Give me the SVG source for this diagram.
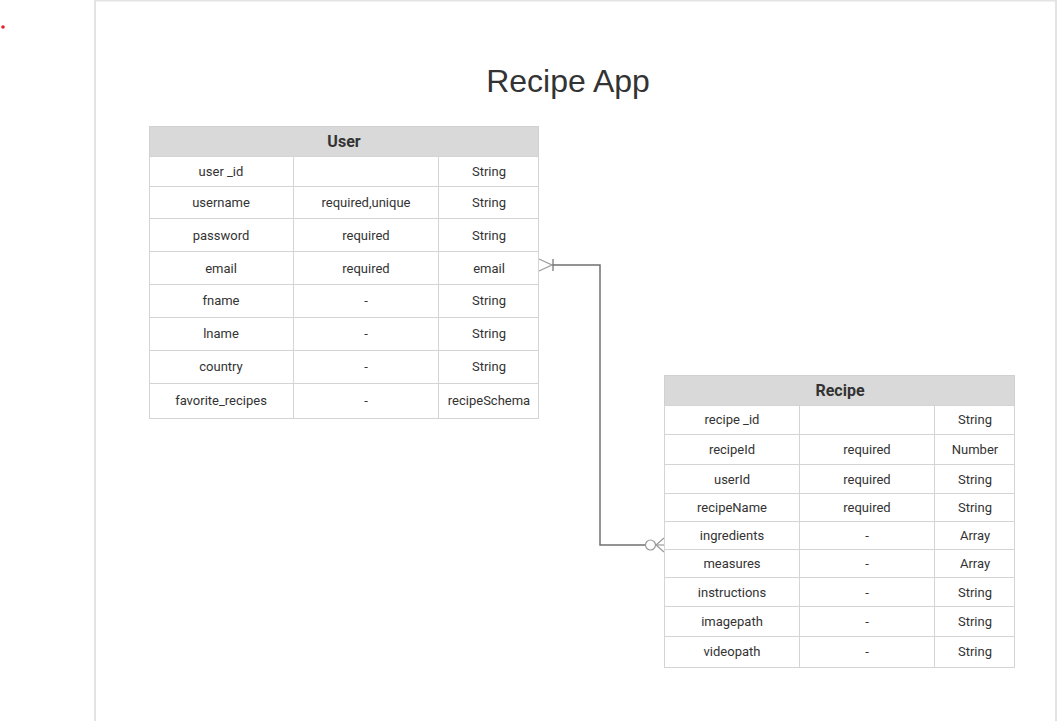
<svg xmlns="http://www.w3.org/2000/svg" width="1058" height="721" viewBox="0 0 1058 721">
<style>
.frame{fill:#ffffff;stroke:#e3e3e3;stroke-width:2}
.hdr{fill:#d9d9d9;stroke:#d0d0d0;stroke-width:1}
.cell{fill:#ffffff;stroke:#d4d4d4;stroke-width:1}
.ht{font-family:Roboto,"Liberation Sans",Arial,sans-serif;font-size:16px;font-weight:bold;fill:#333333;text-anchor:middle}
.t{font-family:Roboto,"Liberation Sans",Arial,sans-serif;font-size:13px;fill:#333333;text-anchor:middle}
.title{font-family:"Liberation Sans",Arial,sans-serif;font-size:32px;fill:#333333;text-anchor:middle}
.conn{fill:none;stroke:#707070;stroke-width:1.5}
.end{fill:#ffffff;stroke:#9a9a9a;stroke-width:1.2}
</style>
<rect class="frame" x="95" y="0.5" width="961" height="730"/>
<circle cx="3" cy="27" r="1.8" fill="#e8202a"/>
<text class="title" x="568" y="92">Recipe App</text>

<g id="connectors">
<path class="conn" d="M553,265 H600 V545 H645"/>
<path class="end" d="M539,259 L552,265 L539,271" />
<line class="end" x1="552" y1="265" x2="553" y2="265"/>
<line x1="553" y1="259" x2="553" y2="271" stroke="#707070" stroke-width="1.2"/>
<circle class="end" cx="650.5" cy="545" r="5"/>
<path class="end" d="M664,538 L656,545 L664,552"/>
<line class="end" x1="655.5" y1="545" x2="664" y2="545"/>
</g>

<g id="user">
<rect class="hdr" x="149.5" y="126.5" width="389" height="30"/>
<text class="ht" x="344" y="147">User</text>
<rect class="cell" x="149.5" y="156.5" width="144" height="30"/><rect class="cell" x="293.5" y="156.5" width="145" height="30"/><rect class="cell" x="438.5" y="156.5" width="100" height="30"/>
<rect class="cell" x="149.5" y="186.5" width="144" height="32"/><rect class="cell" x="293.5" y="186.5" width="145" height="32"/><rect class="cell" x="438.5" y="186.5" width="100" height="32"/>
<rect class="cell" x="149.5" y="218.5" width="144" height="33"/><rect class="cell" x="293.5" y="218.5" width="145" height="33"/><rect class="cell" x="438.5" y="218.5" width="100" height="33"/>
<rect class="cell" x="149.5" y="251.5" width="144" height="33"/><rect class="cell" x="293.5" y="251.5" width="145" height="33"/><rect class="cell" x="438.5" y="251.5" width="100" height="33"/>
<rect class="cell" x="149.5" y="284.5" width="144" height="33"/><rect class="cell" x="293.5" y="284.5" width="145" height="33"/><rect class="cell" x="438.5" y="284.5" width="100" height="33"/>
<rect class="cell" x="149.5" y="317.5" width="144" height="33"/><rect class="cell" x="293.5" y="317.5" width="145" height="33"/><rect class="cell" x="438.5" y="317.5" width="100" height="33"/>
<rect class="cell" x="149.5" y="350.5" width="144" height="33"/><rect class="cell" x="293.5" y="350.5" width="145" height="33"/><rect class="cell" x="438.5" y="350.5" width="100" height="33"/>
<rect class="cell" x="149.5" y="383.5" width="144" height="35"/><rect class="cell" x="293.5" y="383.5" width="145" height="35"/><rect class="cell" x="438.5" y="383.5" width="100" height="35"/>
<text class="t" x="221" y="176">user _id</text><text class="t" x="489" y="176">String</text>
<text class="t" x="221" y="207">username</text><text class="t" x="366" y="207">required,unique</text><text class="t" x="489" y="207">String</text>
<text class="t" x="221" y="240">password</text><text class="t" x="366" y="240">required</text><text class="t" x="489" y="240">String</text>
<text class="t" x="221" y="273">email</text><text class="t" x="366" y="273">required</text><text class="t" x="489" y="273">email</text>
<text class="t" x="221" y="305">fname</text><text class="t" x="366" y="305">-</text><text class="t" x="489" y="305">String</text>
<text class="t" x="221" y="338">lname</text><text class="t" x="366" y="338">-</text><text class="t" x="489" y="338">String</text>
<text class="t" x="221" y="371">country</text><text class="t" x="366" y="371">-</text><text class="t" x="489" y="371">String</text>
<text class="t" x="221" y="405">favorite_recipes</text><text class="t" x="366" y="405">-</text><text class="t" x="489" y="405">recipeSchema</text>
</g>

<g id="recipe">
<rect class="hdr" x="664.5" y="375.5" width="350" height="30"/>
<text class="ht" x="840" y="396">Recipe</text>
<rect class="cell" x="664.5" y="405.5" width="135" height="29"/><rect class="cell" x="799.5" y="405.5" width="135" height="29"/><rect class="cell" x="934.5" y="405.5" width="80" height="29"/>
<rect class="cell" x="664.5" y="434.5" width="135" height="30"/><rect class="cell" x="799.5" y="434.5" width="135" height="30"/><rect class="cell" x="934.5" y="434.5" width="80" height="30"/>
<rect class="cell" x="664.5" y="464.5" width="135" height="29"/><rect class="cell" x="799.5" y="464.5" width="135" height="29"/><rect class="cell" x="934.5" y="464.5" width="80" height="29"/>
<rect class="cell" x="664.5" y="493.5" width="135" height="28"/><rect class="cell" x="799.5" y="493.5" width="135" height="28"/><rect class="cell" x="934.5" y="493.5" width="80" height="28"/>
<rect class="cell" x="664.5" y="521.5" width="135" height="28"/><rect class="cell" x="799.5" y="521.5" width="135" height="28"/><rect class="cell" x="934.5" y="521.5" width="80" height="28"/>
<rect class="cell" x="664.5" y="549.5" width="135" height="28"/><rect class="cell" x="799.5" y="549.5" width="135" height="28"/><rect class="cell" x="934.5" y="549.5" width="80" height="28"/>
<rect class="cell" x="664.5" y="577.5" width="135" height="29"/><rect class="cell" x="799.5" y="577.5" width="135" height="29"/><rect class="cell" x="934.5" y="577.5" width="80" height="29"/>
<rect class="cell" x="664.5" y="606.5" width="135" height="30"/><rect class="cell" x="799.5" y="606.5" width="135" height="30"/><rect class="cell" x="934.5" y="606.5" width="80" height="30"/>
<rect class="cell" x="664.5" y="636.5" width="135" height="31"/><rect class="cell" x="799.5" y="636.5" width="135" height="31"/><rect class="cell" x="934.5" y="636.5" width="80" height="31"/>
<text class="t" x="732" y="424">recipe _id</text><text class="t" x="975" y="424">String</text>
<text class="t" x="732" y="454">recipeId</text><text class="t" x="867" y="454">required</text><text class="t" x="975" y="454">Number</text>
<text class="t" x="732" y="484">userId</text><text class="t" x="867" y="484">required</text><text class="t" x="975" y="484">String</text>
<text class="t" x="732" y="512">recipeName</text><text class="t" x="867" y="512">required</text><text class="t" x="975" y="512">String</text>
<text class="t" x="732" y="540">ingredients</text><text class="t" x="867" y="540">-</text><text class="t" x="975" y="540">Array</text>
<text class="t" x="732" y="568">measures</text><text class="t" x="867" y="568">-</text><text class="t" x="975" y="568">Array</text>
<text class="t" x="732" y="597">instructions</text><text class="t" x="867" y="597">-</text><text class="t" x="975" y="597">String</text>
<text class="t" x="732" y="626">imagepath</text><text class="t" x="867" y="626">-</text><text class="t" x="975" y="626">String</text>
<text class="t" x="732" y="656">videopath</text><text class="t" x="867" y="656">-</text><text class="t" x="975" y="656">String</text>
</g>
</svg>
